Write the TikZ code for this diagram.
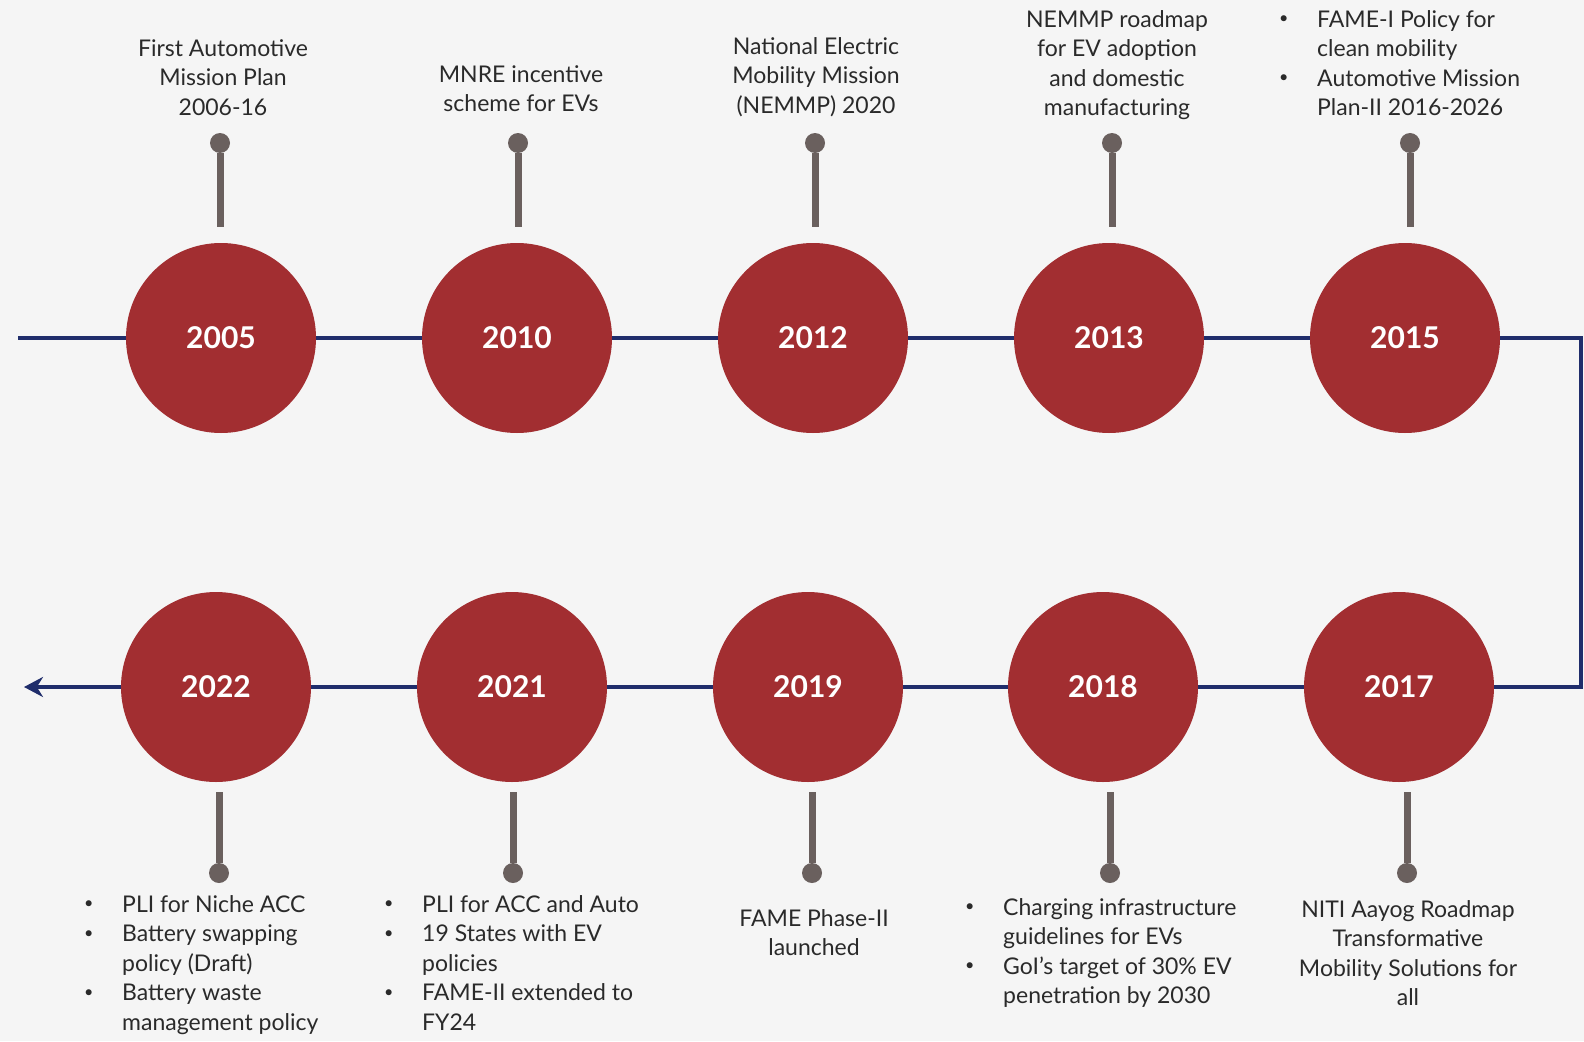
\documentclass[tikz,border=0pt]{standalone}
\usepackage{fontspec}
\setmainfont{Lato}
\usetikzlibrary{arrows.meta}
\definecolor{bgc}{HTML}{F5F5F5}
\definecolor{redc}{HTML}{A22E31}
\definecolor{navy}{HTML}{1F2D6B}
\definecolor{stemc}{HTML}{6A605E}
\definecolor{txt}{HTML}{2A2A2A}
\newcommand{\bl}[1]{\makebox[38pt][l]{\raisebox{0.15em}{\scalebox{0.7}{\textbullet}}}#1}
\newcommand{\cl}[1]{\makebox[38pt][l]{}#1}
\begin{document}
\begin{tikzpicture}[x=1pt,y=-1pt,
  year/.style={circle,fill=redc,minimum size=190pt,inner sep=0pt,text=white,font=\fontsize{30}{32}\selectfont\bfseries},
  dot/.style={circle,fill=stemc,minimum size=20pt,inner sep=0pt},
  stemtop/.style={draw=stemc,line width=7pt,shorten >=16pt},
  stembot/.style={draw=stemc,line width=7pt,shorten >=10pt},
  tl/.style={draw=navy,line width=4.5pt},
  lbl/.style={text=txt,inner sep=0pt,font=\fontsize{23}{29.5}\selectfont},
]
\fill[bgc] (0,0) rectangle (1584,1041);
\useasboundingbox (0,0) rectangle (1584,1041);
% coordinates of the timeline
\coordinate (s) at (18,338);
\coordinate (k1) at (1581,338);
\coordinate (k2) at (1581,687);
\coordinate (e) at (24,687);
% circles
\node[year] (c2005) at (221,338) {2005};
\node[year] (c2010) at (517,338) {2010};
\node[year] (c2012) at (813,338) {2012};
\node[year] (c2013) at (1109,338) {2013};
\node[year] (c2015) at (1405,338) {2015};
\node[year] (c2017) at (1399,687) {2017};
\node[year] (c2018) at (1103,687) {2018};
\node[year] (c2019) at (808,687) {2019};
\node[year] (c2021) at (512,687) {2021};
\node[year] (c2022) at (216,687) {2022};
% timeline
\draw[tl] (s) -- (c2005);
\draw[tl] (c2005) -- (c2010);
\draw[tl] (c2010) -- (c2012);
\draw[tl] (c2012) -- (c2013);
\draw[tl] (c2013) -- (c2015);
\draw[tl] (c2015) -- (k1) -- (k2) -- (c2017);
\draw[tl] (c2017) -- (c2018);
\draw[tl] (c2018) -- (c2019);
\draw[tl] (c2019) -- (c2021);
\draw[tl] (c2021) -- (c2022);
\draw[tl,-{Stealth[length=19pt,width=20pt]}] (c2022) -- (e);
% dots and stems
\node[dot] (d2005) at (220,143) {};
\node[dot] (d2010) at (518,143) {};
\node[dot] (d2012) at (815,143) {};
\node[dot] (d2013) at (1112,143) {};
\node[dot] (d2015) at (1410,143) {};
\node[dot] (d2017) at (1407,873) {};
\node[dot] (d2018) at (1110,873) {};
\node[dot] (d2019) at (812,873) {};
\node[dot] (d2021) at (513,873) {};
\node[dot] (d2022) at (219,873) {};
\foreach \y in {2005,2010,2012,2013,2015}{
  \draw[stemtop] (d\y) -- (d\y |- c\y.north);
}
\foreach \y in {2017,2018,2019,2021,2022}{
  \draw[stembot] (d\y) -- (d\y |- c\y.south);
}
% top labels
\node[lbl,align=center,anchor=north] (t2005) at (223,39) {First Automotive\\Mission Plan\\2006-16};
\node[lbl,align=center,anchor=north] (t2010) at (521,65) {MNRE incentive\\scheme for EVs};
\node[lbl,align=center,anchor=north] (t2012) at (816,37) {National Electric\\Mobility Mission\\(NEMMP) 2020};
\node[lbl,align=center,anchor=north] (t2013) at (1117,10) {NEMMP roadmap\\for EV adoption\\and domestic\\manufacturing};
\node[lbl,align=left,anchor=north west] (t2015) at (1279,10) {\bl{FAME-I Policy for}\\\cl{clean mobility}\\\bl{Automotive Mission}\\\cl{Plan-II 2016-2026}};
% bottom labels
\node[lbl,align=left,anchor=north west] (t2022) at (84,895) {\bl{PLI for Niche ACC}\\\bl{Battery swapping}\\\cl{policy (Draft)}\\\bl{Battery waste}\\\cl{management policy}};
\node[lbl,align=left,anchor=north west] (t2021) at (384,895) {\bl{PLI for ACC and Auto}\\\bl{19 States with EV}\\\cl{policies}\\\bl{FAME-II extended to}\\\cl{FY24}};
\node[lbl,align=center,anchor=north] (t2019) at (814,909) {FAME Phase-II\\launched};
\node[lbl,align=left,anchor=north west] (t2018) at (965,898) {\bl{Charging infrastructure}\\\cl{guidelines for EVs}\\\bl{GoI’s target of 30\% EV}\\\cl{penetration by 2030}};
\node[lbl,align=center,anchor=north] (t2017) at (1408,900) {NITI Aayog Roadmap\\Transformative\\Mobility Solutions for\\all};
\end{tikzpicture}
\end{document}
